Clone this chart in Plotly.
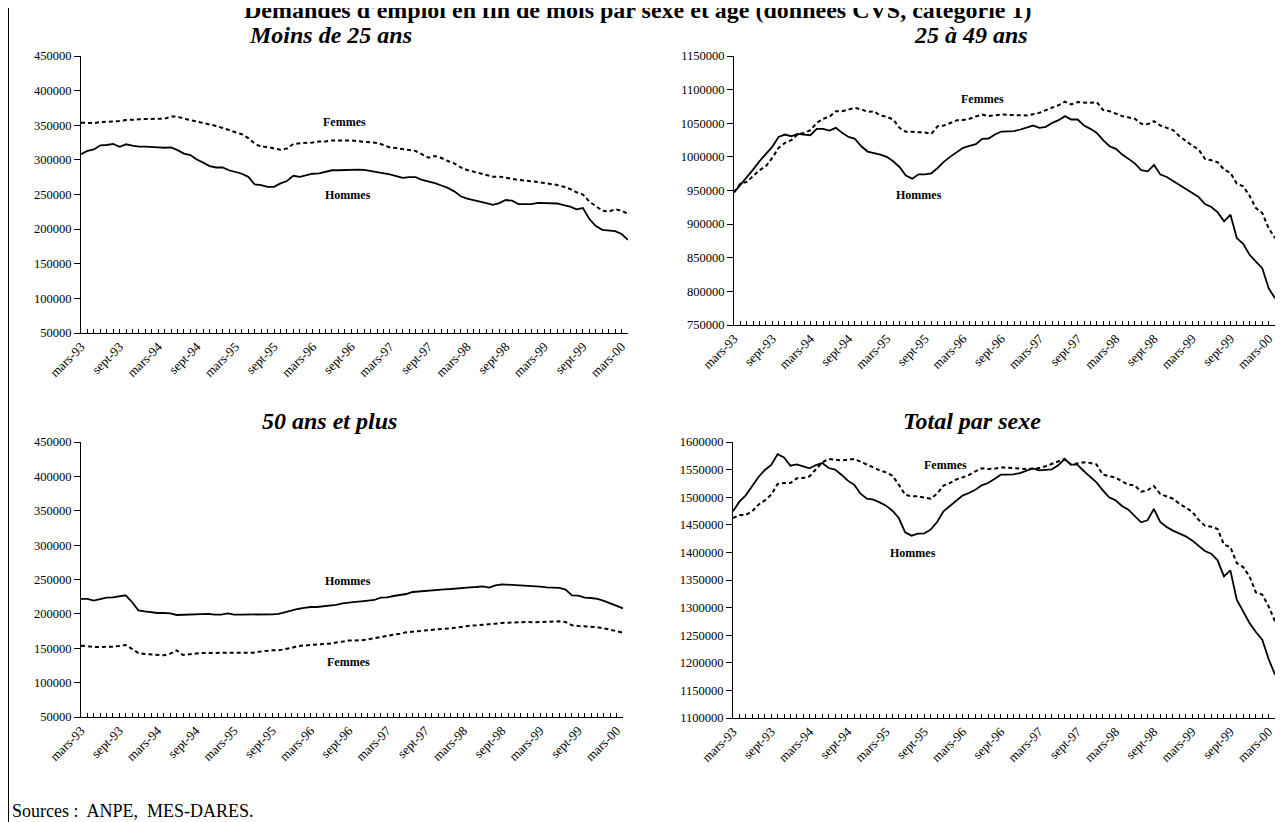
import plotly.graph_objects as go

# ---------------- data (monthly, mars-93 ... avril-00) ----------------
tick_labels = ["mars-93", "sept-93", "mars-94", "sept-94", "mars-95", "sept-95", "mars-96",
               "sept-96", "mars-97", "sept-97", "mars-98", "sept-98", "mars-99", "sept-99", "mars-00"]

moins25_hommes = [308000, 313000, 315000, 321000, 321500, 323000, 319000, 322500, 320500, 319000,
                  319000, 319000, 318000, 317500, 318000, 314000, 309000, 307000, 300500, 296000,
                  291000, 289000, 289000, 285000, 283000, 280000, 275500, 264500, 263500, 261000,
                  261000, 266000, 269500, 277000, 275500, 277500, 280000, 280500, 283000, 285000,
                  285000, 285500, 286500, 286000, 285500, 284000, 283000, 281000, 279000, 276500,
                  274000, 275000, 275000, 271000, 269000, 266500, 263000, 259500, 254500, 247500,
                  244000, 242000, 240500, 237500, 235000, 237500, 242000, 241000, 236000, 236000,
                  236000, 238000, 238000, 237500, 237000, 234500, 232500, 228500, 230500, 214500,
                  204500, 199000, 198500, 197000, 193000, 184500]
moins25_femmes = [353700, 353000, 353000, 354500, 355000, 355000, 356000, 357500, 357500, 358500,
                  359000, 359000, 358500, 359500, 362500, 362500, 359500, 357500, 355000, 353000,
                  351000, 349000, 346000, 343000, 340500, 337000, 331500, 323500, 319000, 318500,
                  316500, 314500, 316500, 323000, 324000, 324000, 325000, 326500, 326500, 328000,
                  328000, 329000, 328000, 327000, 326000, 325500, 324500, 321500, 318000, 317000,
                  316200, 314300, 312800, 308500, 303200, 305600, 302700, 298400, 295000, 289200,
                  285400, 283000, 280600, 279100, 275800, 275800, 273900, 272400, 271000, 270000,
                  269500, 268100, 266600, 265700, 263700, 261300, 258000, 253200, 249800, 239700,
                  233400, 226700, 225200, 228600, 226700, 221900]

a25_49_hommes = [947300, 958700, 968600, 981000, 993500, 1003400, 1014800, 1029700, 1033200, 1030700,
                 1034200, 1033200, 1032200, 1041700, 1041700, 1039200, 1043200, 1035700, 1029700, 1026800,
                 1015800, 1007900, 1005900, 1003400, 1000000, 993500, 985000, 972100, 967600, 974100,
                 974100, 975600, 983500, 993000, 1000400, 1007400, 1013400, 1016300, 1019000, 1026800,
                 1027300, 1033200, 1037700, 1038000, 1038200, 1040700, 1044200, 1046600, 1043200, 1044700,
                 1050600, 1054600, 1060600, 1055600, 1055600, 1046600, 1041700, 1035700, 1024800, 1015800,
                 1011900, 1003400, 997000, 990000, 980100, 978600, 988000, 973600, 970100, 964200,
                 958700, 952700, 946300, 940300, 929900, 925400, 917500, 904100, 914000, 879200,
                 870700, 854400, 844400, 834500, 804700, 789800]
a25_49_femmes = [947300, 960200, 962700, 971100, 980100, 986000, 998400, 1013400, 1020800, 1024800,
                 1033200, 1035700, 1039700, 1050600, 1056600, 1059600, 1068000, 1068000, 1070000, 1073000,
                 1070500, 1067000, 1067500, 1061600, 1059600, 1055600, 1043200, 1037200, 1037200, 1037200,
                 1036200, 1034200, 1045600, 1046600, 1050600, 1054300, 1054800, 1056600, 1060100, 1063000,
                 1060600, 1062000, 1063000, 1062500, 1062000, 1061600, 1061600, 1063500, 1065500, 1069500,
                 1073000, 1077000, 1082000, 1078000, 1081400, 1081000, 1080400, 1081400, 1069500, 1068000,
                 1064500, 1060600, 1058600, 1056600, 1049100, 1048600, 1053100, 1046600, 1043200, 1039700,
                 1030700, 1023300, 1016800, 1010900, 997000, 995000, 992000, 981000, 976100, 960200,
                 956200, 942300, 923900, 916500, 894100, 879200]

plus50_hommes = [221700, 221700, 219200, 221200, 223600, 224100, 226000, 227000, 217300, 205200,
                 203700, 202300, 201300, 201300, 200800, 198400, 198900, 199400, 199900, 200300,
                 199900, 198900, 198900, 200800, 198900, 198900, 198900, 198400, 198900, 199400,
                 199400, 199900, 202300, 205200, 207100, 208600, 210000, 210000, 211000, 212500,
                 213000, 215400, 216800, 217500, 218300, 219200, 220200, 223600, 224100, 226000,
                 227000, 228900, 231800, 232800, 233300, 234300, 235200, 235700, 236200, 237200,
                 237700, 238600, 239100, 240100, 238100, 241500, 243000, 242500, 242500, 241500,
                 241100, 240100, 239600, 238600, 238100, 237700, 235200, 227000, 226500, 223600,
                 223100, 221700, 218800, 215400, 212000, 208100]
plus50_femmes = [153800, 152300, 151850, 151850, 151850, 152300, 153300, 154800, 149000, 143100,
                 141700, 140700, 140200, 139700, 142200, 147000, 140200, 140700, 142200, 143100,
                 143100, 143100, 143100, 143100, 143100, 143100, 143100, 143600, 145100, 146500,
                 147000, 147000, 148500, 150400, 153300, 153800, 154300, 154800, 155700, 156700,
                 158200, 160100, 161100, 161300, 161600, 163000, 164500, 166400, 167900, 169300,
                 171200, 173200, 174200, 175100, 176100, 177100, 178000, 178500, 179000, 180500,
                 181900, 182900, 183400, 183900, 184800, 185800, 186800, 187200, 187700, 188200,
                 188200, 187700, 188200, 188700, 189200, 189200, 188200, 183400, 182400, 181900,
                 181400, 180500, 179000, 177100, 174600, 172700]

total_hommes = [1474400, 1491900, 1503400, 1519700, 1536600, 1549300, 1558300, 1578000, 1572000, 1557100,
                1559500, 1555900, 1552300, 1558300, 1561900, 1552900, 1549900, 1540800, 1530000, 1522700,
                1506400, 1497300, 1495500, 1490700, 1484700, 1475600, 1462300, 1436300, 1430300, 1433900,
                1434500, 1441200, 1455100, 1474400, 1483500, 1494300, 1502800, 1507600, 1513600, 1521500,
                1525700, 1533000, 1540800, 1541000, 1541400, 1543800, 1547500, 1552300, 1548700, 1549900,
                1550500, 1557700, 1569200, 1558900, 1558900, 1547500, 1537800, 1526900, 1512400, 1499800,
                1494300, 1484000, 1477400, 1466500, 1454500, 1458100, 1478600, 1455100, 1446000, 1439400,
                1433900, 1429100, 1421800, 1412800, 1402500, 1397700, 1385600, 1356600, 1367500, 1314400,
                1293200, 1272100, 1255800, 1241900, 1206900, 1178500]
total_femmes = [1462300, 1467700, 1467700, 1474400, 1486500, 1494300, 1504600, 1523900, 1525700, 1525700,
                1534200, 1534800, 1537800, 1549900, 1563200, 1569200, 1567400, 1566800, 1568000, 1569200,
                1564400, 1558900, 1554100, 1548700, 1545000, 1539000, 1522700, 1504600, 1501600, 1501600,
                1499200, 1497300, 1506400, 1520900, 1525700, 1532000, 1536000, 1540200, 1546900, 1552300,
                1551100, 1551700, 1554100, 1553000, 1552300, 1551100, 1551100, 1551700, 1552900, 1555900,
                1560100, 1565600, 1569200, 1559500, 1561900, 1563200, 1561900, 1559500, 1540800, 1537800,
                1535400, 1528700, 1522700, 1521500, 1510000, 1512400, 1520300, 1505800, 1501600, 1497300,
                1488300, 1480400, 1473800, 1459300, 1448400, 1446600, 1442400, 1414000, 1409800, 1380800,
                1373500, 1356600, 1327600, 1323400, 1302300, 1275100]

panel_titles = ["Moins de 25 ans", "25 à 49 ans", "50 ans et plus", "Total par sexe"]
main_title = "Demandes d'emploi en fin de mois par sexe et âge (données CVS, catégorie 1)"
source_text = "Sources :  ANPE,  MES-DARES."

# ---------------- figure ----------------
# The page adds an 8px body margin, so the figure is sized to the visible area
# and every page-pixel position below is converted with that offset.
OFF = 8
FW, FH = 1283 - OFF, 822 - OFF
SERIF = "Liberation Serif, Times New Roman, serif"

n = len(moins25_hommes)
months = list(range(n))
tickvals = months
ticktext = [tick_labels[i // 6] if i % 6 == 0 and i // 6 < len(tick_labels) else "" for i in months]

def px(x):
    return (x - OFF) / FW

def py(y):
    return 1 - (y - OFF) / FH

panels = [
    # (hommes, femmes, xdom px, ydom px, yrange, dtick, title centre px, labels)
    (moins25_hommes, moins25_femmes, (81, 628), (56, 333), (50000, 450000), 50000, (330, 35),
     [("Femmes", 41, 354000), ("Hommes", 41.5, 249500)]),
    (a25_49_hommes, a25_49_femmes, (734, 1275), (56, 325), (750000, 1150000), 50000, (971, 35),
     [("Femmes", 39, 1086000), ("Hommes", 29, 943500)]),
    (plus50_hommes, plus50_femmes, (81, 623), (442, 717), (50000, 450000), 50000, (329, 421),
     [("Hommes", 41.9, 247800), ("Femmes", 41.9, 130500)]),
    (total_hommes, total_femmes, (733, 1275), (442, 718), (1100000, 1600000), 50000, (972, 421),
     [("Femmes", 33.4, 1558000), ("Hommes", 28.3, 1399000)]),
]

fig = go.Figure()
annotations = []
layout_axes = {}

for k, (hom, fem, xd, yd, yr, dt, tc, labs) in enumerate(panels):
    idx = "" if k == 0 else str(k + 1)
    xa, ya = "x" + idx, "y" + idx
    fig.add_trace(go.Scatter(x=months, y=hom, mode="lines", xaxis=xa, yaxis=ya,
                             line=dict(color="black", width=1.8), showlegend=False,
                             hoverinfo="skip"))
    fig.add_trace(go.Scatter(x=months, y=fem, mode="lines", xaxis=xa, yaxis=ya,
                             line=dict(color="black", width=2, dash="4px,3px"), showlegend=False,
                             hoverinfo="skip"))
    layout_axes["xaxis" + idx] = dict(
        domain=[px(xd[0]), px(xd[1])], anchor=ya, range=[0, n - 1], automargin=False,
        showgrid=False, zeroline=False, showline=True, linecolor="black", linewidth=1,
        ticks="inside", ticklen=4, tickcolor="black", tickwidth=1,
        tickmode="array", tickvals=tickvals, ticktext=ticktext, tickangle=-45,
        tickfont=dict(family=SERIF, size=13, color="black"), fixedrange=True)
    layout_axes["yaxis" + idx] = dict(
        domain=[py(yd[1]), py(yd[0])], anchor=xa, range=list(yr), dtick=dt, automargin=False,
        showgrid=False, zeroline=False, showline=True, linecolor="black", linewidth=1,
        ticks="outside", ticklen=6, tickcolor="black", tickwidth=1,
        tickformat="d", tickfont=dict(family=SERIF, size=12.5, color="black"), fixedrange=True)
    # panel title
    annotations.append(dict(text="<b><i>" + panel_titles[k] + "</i></b>", xref="paper", yref="paper",
                            x=px(tc[0]), y=py(tc[1]), xanchor="center", yanchor="middle",
                            showarrow=False, font=dict(family=SERIF, size=24, color="black")))
    for t, lx, ly in labs:
        annotations.append(dict(text="<b>" + t + "</b>", xref=xa, yref=ya, x=lx, y=ly,
                                xanchor="center", yanchor="middle", showarrow=False,
                                font=dict(family=SERIF, size=12, color="black")))

annotations.append(dict(text="<b>" + main_title + "</b>", xref="paper", yref="paper",
                        x=px(637), y=py(10), xanchor="center", yanchor="middle", showarrow=False,
                        font=dict(family=SERIF, size=24, color="black")))
annotations.append(dict(text=source_text, xref="paper", yref="paper",
                        x=px(10), y=py(811), xanchor="left", yanchor="middle", showarrow=False,
                        font=dict(family=SERIF, size=18, color="black")))

fig.update_layout(
    width=FW, height=FH, margin=dict(l=0, r=0, t=0, b=0, autoexpand=False),
    paper_bgcolor="white", plot_bgcolor="white",
    annotations=annotations,
    shapes=[dict(type="line", xref="paper", yref="paper", x0=px(8.5), x1=px(8.5), y0=0, y1=1,
                 line=dict(color="black", width=1))],
    **layout_axes,
)

fig.write_html("out.html")
